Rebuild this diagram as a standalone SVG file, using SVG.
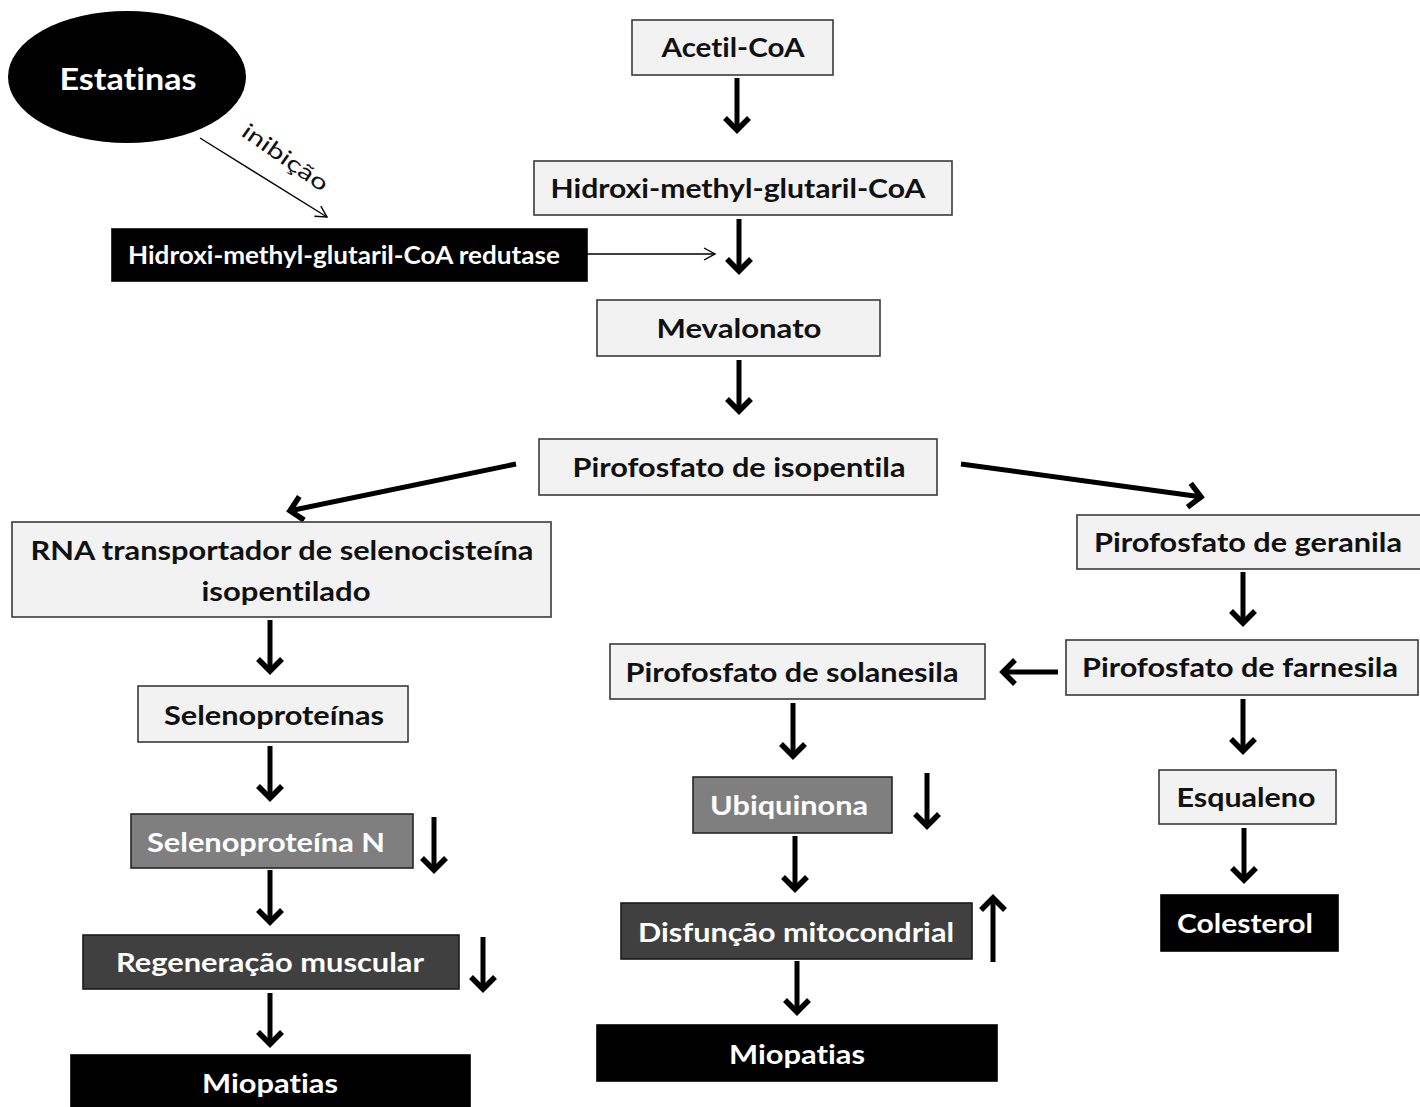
<svg xmlns="http://www.w3.org/2000/svg" width="1420" height="1107" viewBox="0 0 1420 1107">
  <style>
    .lt { fill: #f2f2f2; stroke: #3a3a3a; stroke-width: 1.6; }
    .gr { fill: #7f7f7f; stroke: #262626; stroke-width: 1.6; }
    .dk { fill: #404040; stroke: #1a1a1a; stroke-width: 1.6; }
    .bk { fill: #000; stroke: #000; stroke-width: 1.6; }
    text { font-family: Lato, "Open Sans", "Liberation Sans", sans-serif; font-weight: 700; font-size: 27px; text-anchor: middle; font-variant-ligatures: none; }
    .tb { fill: #111; }
    .tw { fill: #fff; }
    .flow { stroke: #000; stroke-width: 5; fill: none; marker-end: url(#head); }
    .thin { stroke: #000; stroke-width: 1.4; fill: none; marker-end: url(#thinhead); }
  </style>
  <defs>
    <marker id="head" markerUnits="userSpaceOnUse" markerWidth="34" markerHeight="34" viewBox="-17 -17 34 34" refX="0" refY="0" orient="auto">
      <path d="M-13,-12 L-1,0 L-13,12" fill="none" stroke="#000" stroke-width="5.5" stroke-linejoin="miter"/>
    </marker>
    <marker id="thinhead" markerUnits="userSpaceOnUse" markerWidth="24" markerHeight="24" viewBox="-12 -12 24 24" refX="0" refY="0" orient="auto">
      <path d="M-11,-6 L0,0 L-11,6" fill="none" stroke="#000" stroke-width="1.4"/>
    </marker>
  </defs>

  <rect width="1420" height="1107" fill="#fff"/>

  <!-- connectors -->
  <g id="connectors">
    <line class="thin" x1="200" y1="138" x2="327" y2="217"/>
    <line class="thin" x1="587" y1="254" x2="715" y2="254"/>
    <line class="flow" x1="737" y1="78" x2="737" y2="131"/>
    <line class="flow" x1="739" y1="219" x2="739" y2="272"/>
    <line class="flow" x1="739" y1="360" x2="739" y2="412"/>
    <line class="flow" x1="516" y1="464" x2="289" y2="511"/>
    <line class="flow" x1="961" y1="464" x2="1202" y2="497"/>
    <line class="flow" x1="270" y1="620" x2="270" y2="672"/>
    <line class="flow" x1="270" y1="746" x2="270" y2="799"/>
    <line class="flow" x1="270" y1="870" x2="270" y2="923"/>
    <line class="flow" x1="270" y1="993" x2="270" y2="1045"/>
    <line class="flow" x1="1243" y1="572" x2="1243" y2="624"/>
    <line class="flow" x1="1058" y1="672" x2="1002" y2="672"/>
    <line class="flow" x1="793" y1="703" x2="793" y2="757"/>
    <line class="flow" x1="795" y1="836" x2="795" y2="890"/>
    <line class="flow" x1="797" y1="961" x2="797" y2="1013"/>
    <line class="flow" x1="1243" y1="699" x2="1243" y2="752"/>
    <line class="flow" x1="1244" y1="828" x2="1244" y2="881"/>
    <!-- level indicators -->
    <line class="flow" x1="434" y1="817" x2="434" y2="871"/>
    <line class="flow" x1="483" y1="937" x2="483" y2="990"/>
    <line class="flow" x1="927" y1="773" x2="927" y2="827"/>
    <line class="flow" x1="993" y1="962" x2="993" y2="897"/>
    <text x="0" y="0" transform="translate(240,135) rotate(35)" style="font-size:22px;font-weight:400;text-anchor:start;fill:#111" textLength="100" lengthAdjust="spacingAndGlyphs">inibição</text>
  </g>

  <g id="estatinas">
    <ellipse cx="127" cy="77" rx="119" ry="66" fill="#000"/>
    <text class="tw" x="128" y="90" style="font-size:30px" textLength="137" lengthAdjust="spacingAndGlyphs">Estatinas</text>
  </g>
  <g id="hmgcr">
    <rect class="bk" x="112" y="229" width="475" height="52"/>
    <text class="tw" x="344" y="264" style="font-size:25px;font-weight:700" textLength="432" lengthAdjust="spacingAndGlyphs">Hidroxi-methyl-glutaril-CoA redutase</text>
  </g>
  <g id="acetil">
    <rect class="lt" x="632" y="20" width="201" height="55"/>
    <text class="tb" x="733" y="57" textLength="143" lengthAdjust="spacingAndGlyphs">Acetil-CoA</text>
  </g>
  <g id="hmgcoa">
    <rect class="lt" x="534" y="161" width="418" height="54"/>
    <text class="tb" x="738" y="198" textLength="375" lengthAdjust="spacingAndGlyphs">Hidroxi-methyl-glutaril-CoA</text>
  </g>
  <g id="mevalonato">
    <rect class="lt" x="597" y="300" width="283" height="56"/>
    <text class="tb" x="739" y="338" textLength="165" lengthAdjust="spacingAndGlyphs">Mevalonato</text>
  </g>
  <g id="ipp">
    <rect class="lt" x="539" y="439" width="398" height="56"/>
    <text class="tb" x="739" y="477" textLength="333" lengthAdjust="spacingAndGlyphs">Pirofosfato de isopentila</text>
  </g>
  <g id="trna">
    <rect class="lt" x="12" y="522" width="539" height="95"/>
    <text class="tb" x="282" y="560" textLength="503" lengthAdjust="spacingAndGlyphs">RNA transportador de selenocisteína</text>
    <text class="tb" x="286" y="601" textLength="169" lengthAdjust="spacingAndGlyphs">isopentilado</text>
  </g>
  <g id="selenoproteinas">
    <rect class="lt" x="138" y="686" width="270" height="56"/>
    <text class="tb" x="274" y="725" textLength="220" lengthAdjust="spacingAndGlyphs">Selenoproteínas</text>
  </g>
  <g id="selenoproteina-n">
    <rect class="gr" x="131" y="814" width="282" height="54"/>
    <text class="tw" x="266" y="852" textLength="238" lengthAdjust="spacingAndGlyphs">Selenoproteína N</text>
  </g>
  <g id="regeneracao">
    <rect class="dk" x="83" y="935" width="376" height="54"/>
    <text class="tw" x="270" y="972" textLength="308" lengthAdjust="spacingAndGlyphs">Regeneração muscular</text>
  </g>
  <g id="miopatias-1">
    <rect class="bk" x="71" y="1055" width="399" height="54"/>
    <text class="tw" x="270" y="1093" textLength="136" lengthAdjust="spacingAndGlyphs">Miopatias</text>
  </g>
  <g id="geranila">
    <rect class="lt" x="1077" y="515" width="345" height="54"/>
    <text class="tb" x="1248" y="552" textLength="308" lengthAdjust="spacingAndGlyphs">Pirofosfato de geranila</text>
  </g>
  <g id="farnesila">
    <rect class="lt" x="1066" y="640" width="352" height="55"/>
    <text class="tb" x="1240" y="677" textLength="316" lengthAdjust="spacingAndGlyphs">Pirofosfato de farnesila</text>
  </g>
  <g id="solanesila">
    <rect class="lt" x="610" y="644" width="375" height="55"/>
    <text class="tb" x="792" y="682" textLength="333" lengthAdjust="spacingAndGlyphs">Pirofosfato de solanesila</text>
  </g>
  <g id="ubiquinona">
    <rect class="gr" x="693" y="777" width="199" height="56"/>
    <text class="tw" x="789" y="815" textLength="158" lengthAdjust="spacingAndGlyphs">Ubiquinona</text>
  </g>
  <g id="disfuncao">
    <rect class="dk" x="621" y="903" width="351" height="56"/>
    <text class="tw" x="796" y="942" textLength="316" lengthAdjust="spacingAndGlyphs">Disfunção mitocondrial</text>
  </g>
  <g id="miopatias-2">
    <rect class="bk" x="597" y="1025" width="400" height="56"/>
    <text class="tw" x="797" y="1064" textLength="136" lengthAdjust="spacingAndGlyphs">Miopatias</text>
  </g>
  <g id="esqualeno">
    <rect class="lt" x="1159" y="770" width="177" height="54"/>
    <text class="tb" x="1246" y="807" textLength="139" lengthAdjust="spacingAndGlyphs">Esqualeno</text>
  </g>
  <g id="colesterol">
    <rect class="bk" x="1161" y="895" width="177" height="56"/>
    <text class="tw" x="1245" y="933" textLength="136" lengthAdjust="spacingAndGlyphs">Colesterol</text>
  </g>
</svg>
